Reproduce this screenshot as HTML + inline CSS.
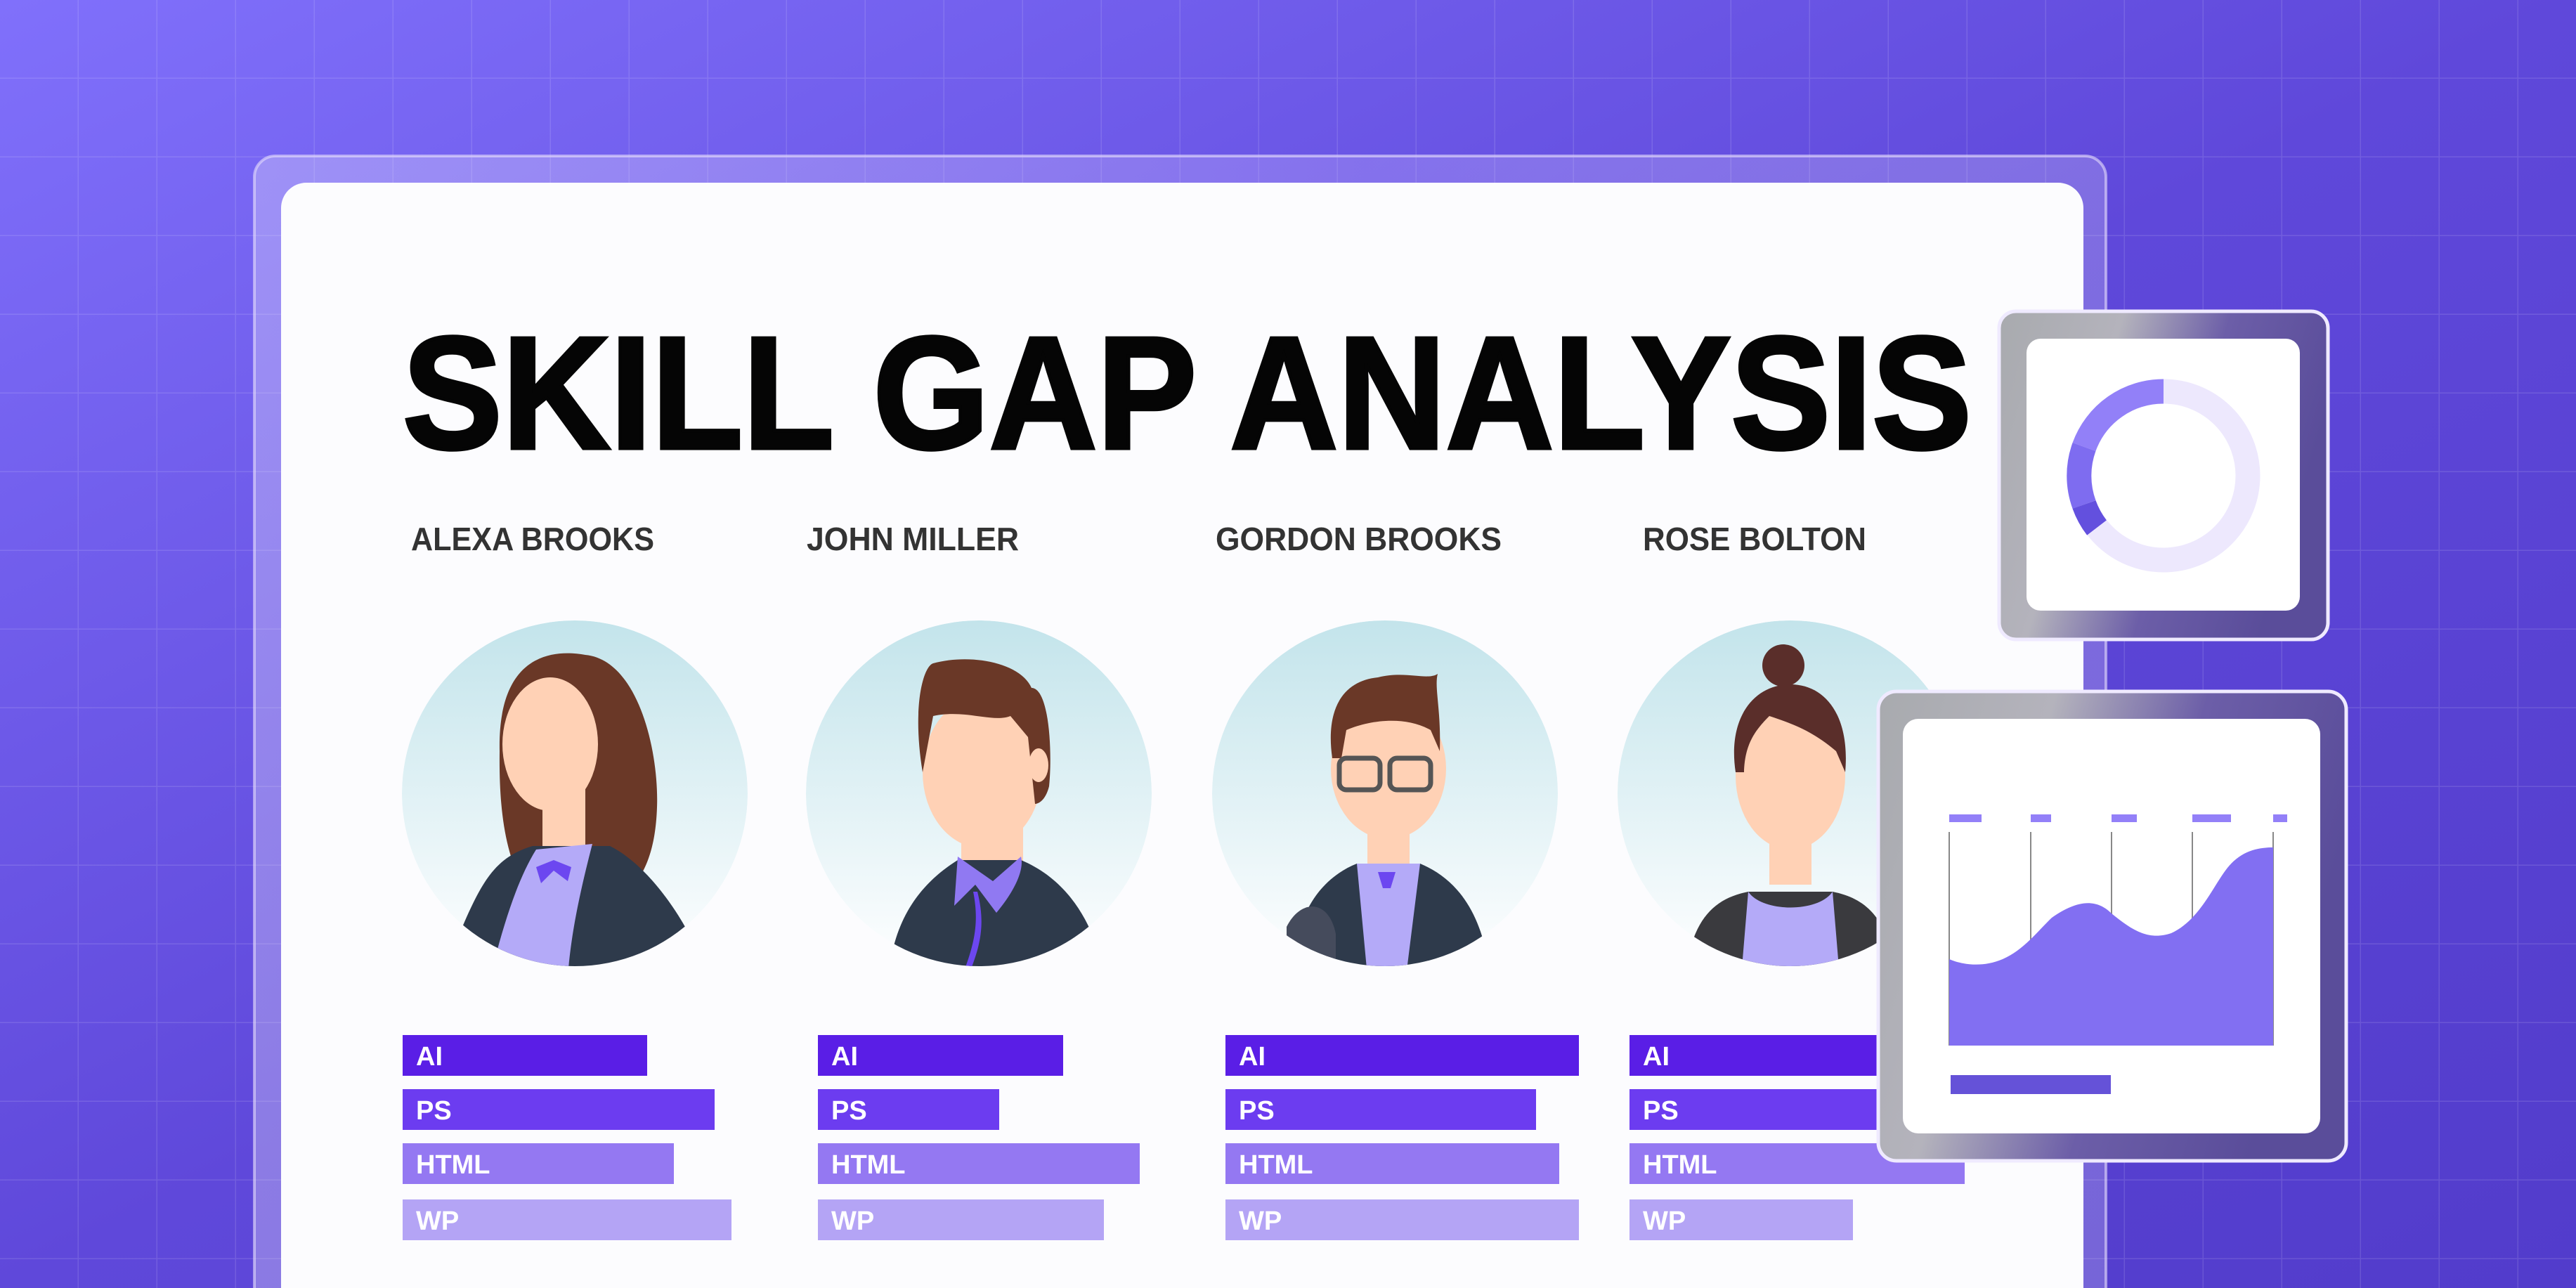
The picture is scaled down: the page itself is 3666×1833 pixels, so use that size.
<!DOCTYPE html>
<html><head><meta charset="utf-8"><style>html,body{margin:0;padding:0;width:3666px;height:1833px;overflow:hidden;background:#6a58e8}svg{display:block}</style></head>
<body>
<svg width="3666" height="1833" viewBox="0 0 3666 1833" xmlns="http://www.w3.org/2000/svg" font-family="Liberation Sans, Arial, sans-serif">
<defs>
<linearGradient id="bg" x1="0" y1="0" x2="1" y2="1"><stop offset="0" stop-color="#8070fb"/><stop offset="0.5" stop-color="#5f48da"/><stop offset="1" stop-color="#523ccb"/></linearGradient>
<pattern id="grid" width="112" height="112" patternUnits="userSpaceOnUse"><path d="M112 0V112M0 112H112" stroke="#ffffff" stroke-opacity="0.12" stroke-width="3" fill="none"/></pattern>
<linearGradient id="circ" x1="0" y1="0" x2="0" y2="1"><stop offset="0" stop-color="#c3e4eb"/><stop offset="0.95" stop-color="#fbfdfe"/></linearGradient>
<linearGradient id="glass" x1="0" y1="0" x2="1" y2="0.3"><stop offset="0" stop-color="#a8aaae"/><stop offset="0.35" stop-color="#b4b3bc"/><stop offset="0.65" stop-color="#6c5ea8"/><stop offset="1" stop-color="#5a4d9a"/></linearGradient>
<linearGradient id="frame" x1="0" y1="0" x2="1" y2="0"><stop offset="0" stop-color="#ffffff" stop-opacity="0.28"/><stop offset="0.6" stop-color="#c8b8ff" stop-opacity="0.28"/><stop offset="1" stop-color="#ffffff" stop-opacity="0.2"/></linearGradient>
<clipPath id="c1"><circle cx="0" cy="0" r="246"/></clipPath>
</defs>
<rect width="3666" height="1833" fill="url(#bg)"/>
<rect width="3666" height="1833" fill="url(#grid)"/>
<rect x="362" y="222" width="2635" height="1700" rx="30" fill="url(#frame)" stroke="#e6defc" stroke-opacity="0.6" stroke-width="4"/>
<rect x="400" y="260" width="2565" height="1650" rx="36" fill="#fcfcfe"/>
<text x="573" y="638" font-size="228" font-weight="bold" fill="#050505" stroke="#050505" stroke-width="5" textLength="2233" lengthAdjust="spacingAndGlyphs">SKILL GAP ANALYSIS</text>
<g font-size="46" font-weight="bold" fill="#333333">
<text x="585" y="783" textLength="346" lengthAdjust="spacingAndGlyphs">ALEXA BROOKS</text>
<text x="1148" y="783" textLength="302" lengthAdjust="spacingAndGlyphs">JOHN MILLER</text>
<text x="1730" y="783" textLength="407" lengthAdjust="spacingAndGlyphs">GORDON BROOKS</text>
<text x="2338" y="783" textLength="318" lengthAdjust="spacingAndGlyphs">ROSE BOLTON</text>
</g>
<g transform="translate(818,1129)"><g clip-path="url(#c1)">
<circle r="246" fill="url(#circ)"/>
<path d="M-107,-60 C-110,-200 -30,-205 15,-197 C90,-190 120,-60 117,20 C115,80 100,110 85,130 L-75,130 C-100,80 -108,20 -107,-60Z" fill="#6a3827"/>
<rect x="-46" y="-10" width="61" height="100" fill="#ffd1b5"/>
<ellipse cx="-35" cy="-70" rx="68" ry="95" fill="#ffd1b5"/>
<path d="M-160,190 C-130,120 -110,90 -60,75 L50,75 C100,100 140,160 157,190 L157,260 L-160,260Z" fill="#2e3a4b"/>
<path d="M-55,80 L25,72 C5,150 -5,200 -10,260 L-120,260 C-100,180 -80,120 -55,80Z" fill="#b4aaf8"/>
<path d="M-55,105 L-30,95 L-5,105 L-10,125 L-30,110 L-48,128Z" fill="#6c47f0"/>
</g></g>
<g transform="translate(1393,1129)"><g clip-path="url(#c1)">
<circle r="246" fill="url(#circ)"/>
<rect x="-25" y="20" width="88" height="90" fill="#ffd1b5"/>
<ellipse cx="5" cy="-30" rx="85" ry="108" fill="#ffd1b5"/>
<path d="M-80,-30 C-95,-120 -80,-180 -65,-185 C-10,-200 60,-185 75,-150 C100,-150 105,-60 100,-10 C95,10 85,15 80,15 L70,-80 L45,-110 C20,-100 -20,-120 -65,-110Z" fill="#6a3827"/>
<ellipse cx="85" cy="-40" rx="14" ry="24" fill="#ffd1b5"/>
<path d="M-124,230 C-110,160 -70,120 -30,95 L60,95 C120,120 150,170 165,210 L165,260 L-124,260Z" fill="#2e3a4b"/>
<path d="M-30,90 L-35,160 L-5,130 L25,170 C50,140 65,110 60,90 L20,125Z" fill="#9079f2"/>
<path d="M-8,140 C0,180 -5,210 -20,250 L-12,252 C5,210 8,180 -2,140Z" fill="#6c47f0"/>
</g></g>
<g transform="translate(1971,1129)"><g clip-path="url(#c1)">
<circle r="246" fill="url(#circ)"/>
<rect x="-25" y="20" width="60" height="90" fill="#ffd1b5"/>
<ellipse cx="5" cy="-35" rx="82" ry="100" fill="#ffd1b5"/>
<path d="M-75,-50 C-85,-120 -60,-160 -10,-165 C30,-175 60,-160 75,-170 C70,-150 80,-120 78,-60 L65,-90 C30,-110 -20,-105 -55,-90 L-62,-50Z" fill="#6a3827"/>
<rect x="-65" y="-50" width="58" height="45" rx="10" fill="none" stroke="#555" stroke-width="7"/>
<rect x="7" y="-50" width="58" height="45" rx="10" fill="none" stroke="#555" stroke-width="7"/>
<path d="M-130,260 C-130,170 -90,120 -40,100 L50,100 C110,125 140,180 150,260Z" fill="#2e3a4b"/>
<path d="M-40,100 L50,100 L30,260 L-25,260Z" fill="#b4aaf8"/>
<path d="M-10,112 L15,112 L8,135 L-3,135Z" fill="#6c47f0"/>
<path d="M-140,190 C-120,150 -80,150 -70,200 L-70,260 L-140,260Z" fill="#454b5c"/>
</g></g>
<g transform="translate(2548,1129)"><g clip-path="url(#c1)">
<circle r="246" fill="url(#circ)"/>
<rect x="-30" y="40" width="60" height="90" fill="#ffd1b5"/>
<ellipse cx="0" cy="-25" rx="78" ry="105" fill="#ffd1b5"/>
<circle cx="-10" cy="-182" r="30" fill="#5a2e2a"/>
<path d="M-78,-30 C-90,-110 -50,-155 0,-155 C50,-155 85,-110 78,-30 L65,-60 C30,-90 0,-100 -30,-110 C-50,-90 -65,-70 -66,-30Z" fill="#5a2e2a"/>
<path d="M-150,260 C-140,180 -110,150 -60,140 L60,140 C110,150 140,180 150,260Z" fill="#3a3a3e"/>
<path d="M-60,140 C-40,170 40,170 60,140 L70,260 L-70,260Z" fill="#b4aaf8"/>
</g></g>
<g font-size="38" font-weight="bold" fill="#ffffff">
<rect x="573" y="1473" width="348" height="58" fill="#5a1ee6"/>
<rect x="573" y="1550" width="444" height="58" fill="#6c3cf0"/>
<rect x="573" y="1627" width="386" height="58" fill="#9478f2"/>
<rect x="573" y="1707" width="468" height="58" fill="#b4a4f5"/>
<text x="592" y="1516">AI</text><text x="592" y="1593">PS</text><text x="592" y="1670">HTML</text><text x="592" y="1750">WP</text>
<rect x="1164" y="1473" width="349" height="58" fill="#5a1ee6"/>
<rect x="1164" y="1550" width="258" height="58" fill="#6c3cf0"/>
<rect x="1164" y="1627" width="458" height="58" fill="#9478f2"/>
<rect x="1164" y="1707" width="407" height="58" fill="#b4a4f5"/>
<text x="1183" y="1516">AI</text><text x="1183" y="1593">PS</text><text x="1183" y="1670">HTML</text><text x="1183" y="1750">WP</text>
<rect x="1744" y="1473" width="503" height="58" fill="#5a1ee6"/>
<rect x="1744" y="1550" width="442" height="58" fill="#6c3cf0"/>
<rect x="1744" y="1627" width="475" height="58" fill="#9478f2"/>
<rect x="1744" y="1707" width="503" height="58" fill="#b4a4f5"/>
<text x="1763" y="1516">AI</text><text x="1763" y="1593">PS</text><text x="1763" y="1670">HTML</text><text x="1763" y="1750">WP</text>
<rect x="2319" y="1473" width="400" height="58" fill="#5a1ee6"/>
<rect x="2319" y="1550" width="400" height="58" fill="#6c3cf0"/>
<rect x="2319" y="1627" width="477" height="58" fill="#9478f2"/>
<rect x="2319" y="1707" width="318" height="58" fill="#b4a4f5"/>
<text x="2338" y="1516">AI</text><text x="2338" y="1593">PS</text><text x="2338" y="1670">HTML</text><text x="2338" y="1750">WP</text>
</g>
<rect x="2845" y="443" width="468" height="467" rx="24" fill="url(#glass)" stroke="#efeaff" stroke-width="5"/>
<rect x="2884" y="482" width="389" height="387" rx="20" fill="#ffffff"/>
<circle cx="3079" cy="677" r="120" fill="none" stroke="#ede8fd" stroke-width="35"/>
<path d="M3079,557 A120,120 0 0 0 2966,636" fill="none" stroke="#9280f8" stroke-width="35"/>
<path d="M2966,636 A120,120 0 0 0 2966,718" fill="none" stroke="#7e6cf0" stroke-width="35"/>
<path d="M2966,718 A120,120 0 0 0 2984,751" fill="none" stroke="#6350de" stroke-width="35"/>
<rect x="2673" y="984" width="666" height="668" rx="26" fill="url(#glass)" stroke="#efeaff" stroke-width="5"/>
<rect x="2708" y="1023" width="594" height="590" rx="22" fill="#ffffff"/>
<g fill="#9380f8">
<rect x="2774" y="1159" width="46" height="11"/><rect x="2890" y="1159" width="29" height="11"/><rect x="3005" y="1159" width="36" height="11"/><rect x="3120" y="1159" width="55" height="11"/><rect x="3235" y="1159" width="20" height="11"/>
</g>
<g stroke="#888" stroke-width="2">
<line x1="2774" y1="1184" x2="2774" y2="1488"/><line x1="2890" y1="1184" x2="2890" y2="1488"/><line x1="3005" y1="1184" x2="3005" y2="1488"/><line x1="3120" y1="1184" x2="3120" y2="1488"/><line x1="3235" y1="1184" x2="3235" y2="1488"/>
</g>
<path d="M2774,1365 C2790,1372 2820,1378 2850,1365 C2880,1352 2900,1325 2920,1306 C2950,1285 2980,1275 3005,1300 C3030,1320 3055,1340 3090,1328 C3130,1310 3150,1260 3170,1235 C3190,1210 3215,1206 3235,1206 L3235,1488 L2774,1488Z" fill="#826ff2"/>
<rect x="2776" y="1530" width="228" height="27" fill="#6552d8"/>
</svg>
</body></html>
